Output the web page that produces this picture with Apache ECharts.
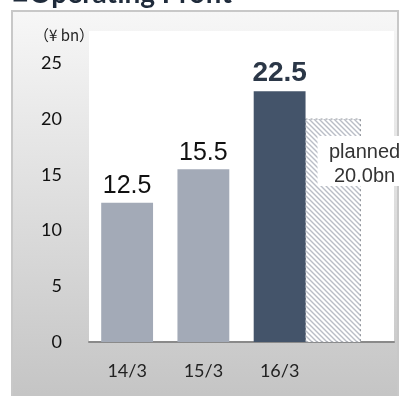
<!DOCTYPE html>
<html>
<head>
<meta charset="utf-8">
<script src="https://cdn.jsdelivr.net/npm/echarts@6/dist/echarts.min.js"></script>
<style>
  html, body { margin: 0; padding: 0; background: #fff; }
  #chart { width: 399px; height: 396px; }
</style>
</head>
<body>
<div id="chart"></div>
<script>
// data
const categories = ["14/3", "15/3", "16/3", ""];
const actual = [12.5, 15.5, 22.5];
const plannedIndex = 2;
const plannedValue = 20.0;
const yMin = 0;
const yStep = 5;

// diagonal hatch for the planned bar
function hatchPattern() {
  const s = 5;
  const c = document.createElement("canvas");
  c.width = s;
  c.height = s;
  const ctx = c.getContext("2d");
  ctx.fillStyle = "#ffffff";
  ctx.fillRect(0, 0, s, s);
  ctx.strokeStyle = "#b9bdc6";
  ctx.lineWidth = 1.4;
  ctx.beginPath();
  ctx.moveTo(-1, -1); ctx.lineTo(s + 1, s + 1);
  ctx.moveTo(-1, s - 1); ctx.lineTo(1, s + 1);
  ctx.moveTo(s - 1, -1); ctx.lineTo(s + 1, 1);
  ctx.stroke();
  return c;
}

const chart = echarts.init(document.getElementById("chart"));
const hatch = hatchPattern();

chart.setOption({
  animation: false,
  textStyle: { fontFamily: "Lato" },
  graphic: [
    {
      type: "rect",
      left: 11, top: 10, z: -10,
      shape: { width: 386, height: 390 },
      style: {
        fill: new echarts.graphic.LinearGradient(0, 0, 0, 1, [
          { offset: 0, color: "#f7f7f7" },
          { offset: 1, color: "#c4c4c4" },
        ]),
        stroke: "#c8c8c8",
        lineWidth: 2,
      },
    },
    {
      type: "text",
      left: 12, top: -20,
      style: {
        text: "■Operating Profit",
        font: "bold 28px Lato",
        fill: "#1f2b3b",
      },
    },
    {
      type: "text",
      left: 34, top: 28,
      style: {
        text: "（¥ bn）",
        font: "15px 'Noto Sans CJK JP'",
        fill: "#222",
      },
    },
  ],
  grid: {
    left: 89, right: 5, top: 31, bottom: 54,
    show: true, backgroundColor: "#ffffff", borderWidth: 0,
  },
  xAxis: {
    type: "category",
    data: categories,
    axisLine: { lineStyle: { color: "#8a8a8a", width: 2 } },
    axisTick: { show: false },
    axisLabel: { fontSize: 18, color: "#222", margin: 20 },
  },
  yAxis: {
    type: "value",
    min: yMin,
    max: 27.9,
    interval: yStep,
    axisLine: { show: false },
    axisTick: { show: false },
    splitLine: { show: false },
    axisLabel: { fontSize: 18, color: "#111", margin: 27, showMaxLabel: false },
  },
  series: [
    {
      type: "bar",
      barWidth: "68%",
      data: actual.map((v, i) => ({
        value: v,
        itemStyle: { color: i === plannedIndex ? "#44546a" : "#a3aab7" },
        label: i === plannedIndex
          ? { fontWeight: "bold", fontSize: 28, color: "#2b3747" }
          : {},
      })),
      label: {
        show: true,
        position: "top",
        distance: 4,
        fontFamily: "Liberation Sans",
        fontSize: 25,
        color: "#111",
      },
    },
    {
      type: "custom",
      data: [[plannedIndex, plannedValue]],
      encode: { x: 0, y: 1 },
      renderItem: (params, api) => {
        const top = api.coord([api.value(0), api.value(1)]);
        const base = api.coord([api.value(0), 0]);
        const band = api.size([1, 0])[0];
        const x = top[0] + band * 0.34;
        const w = band * 0.72;
        return {
          type: "group",
          children: [
            {
              type: "rect",
              shape: { x: x, y: top[1], width: w, height: base[1] - top[1] },
              style: {
                fill: { image: hatch, repeat: "repeat" },
                stroke: "#8f939a",
                lineWidth: 1,
                lineDash: [2, 3],
              },
            },
            {
              type: "rect",
              shape: { x: x + 12, y: top[1] + 17, width: 90, height: 50 },
              style: { fill: "#ffffff" },
            },
            {
              type: "text",
              x: x + 59, y: top[1] + 21,
              style: {
                text: "planned\n" + api.value(1).toFixed(1) + "bn",
                font: "20px 'Liberation Sans'",
                fill: "#333",
                lineHeight: 24,
                align: "center",
              },
            },
          ],
        };
      },
    },
  ],
});
</script>
</body>
</html>
